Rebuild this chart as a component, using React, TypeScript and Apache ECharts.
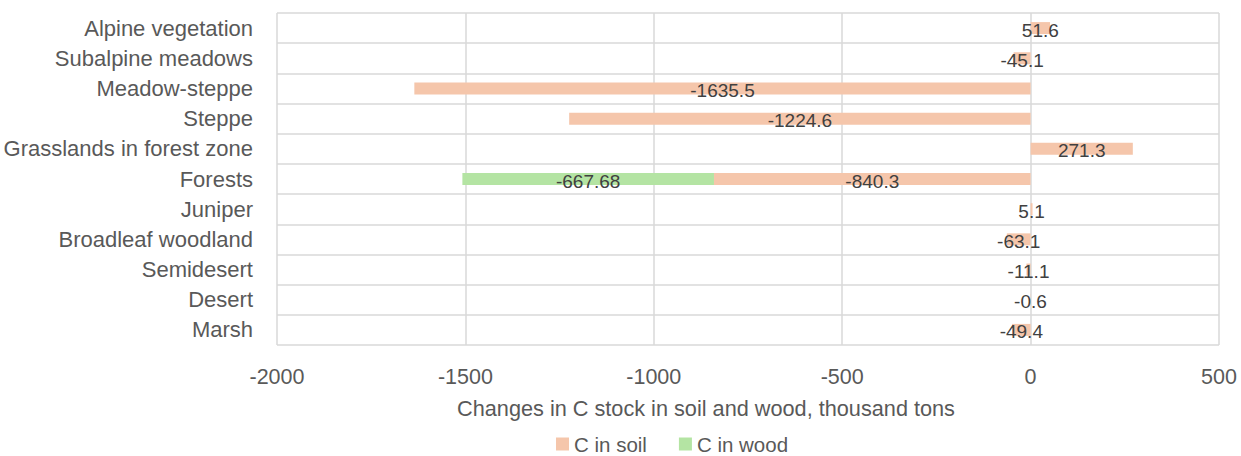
import React, { useEffect, useRef } from "react";
import * as echarts from "echarts";

const categories = [
  "Alpine vegetation",
  "Subalpine meadows",
  "Meadow-steppe",
  "Steppe",
  "Grasslands in forest zone",
  "Forests",
  "Juniper",
  "Broadleaf woodland",
  "Semidesert",
  "Desert",
  "Marsh",
];
const soilValues = [51.6, -45.1, -1635.5, -1224.6, 271.3, -840.3, 5.1, -63.1, -11.1, -0.6, -49.4];
const woodValues = [null, null, null, null, null, -667.68, null, null, null, null, null];
const xTicks = { min: -2000, max: 500, interval: 500 };
const axisTitle = "Changes in C stock in soil and wood, thousand tons";
const seriesNames = ["C in soil", "C in wood"];

const FONT = "'Liberation Sans', Arial, sans-serif";

export default function App() {
  const ref = useRef<HTMLDivElement>(null);
  useEffect(() => {
    if (!ref.current) return;
    const chart = echarts.init(ref.current, null, { renderer: "svg" });
    const label = {
      show: true,
      position: "inside",
      color: "#404040",
      fontSize: 19,
      fontFamily: FONT,
      offset: [0, 2],
      formatter: (p: any) => String(p.value),
    };
    chart.setOption({
      animation: false,
      textStyle: { fontFamily: FONT },
      grid: { left: 277, top: 13, right: 22, bottom: 111, containLabel: false },
      legend: {
        data: seriesNames,
        left: 551,
        top: 428,
        itemWidth: 13,
        itemHeight: 13,
        itemGap: 32,
        icon: "rect",
        textStyle: { color: "#595959", fontSize: 20.5, fontFamily: FONT, lineHeight: 22 },
      },
      xAxis: {
        type: "value",
        min: xTicks.min,
        max: xTicks.max,
        interval: xTicks.interval,
        axisLine: { show: false },
        axisTick: { show: false },
        splitLine: { show: true, lineStyle: { color: "#d9d9d9", width: 1.5 } },
        axisLabel: {
          color: "#595959",
          fontSize: 21.5,
          fontFamily: FONT,
          margin: 21,
          formatter: (v: number) => String(v),
        },
        name: axisTitle,
        nameLocation: "middle",
        nameGap: 52,
        nameTextStyle: { color: "#595959", fontSize: 21.7, fontFamily: FONT, padding: [0, 84, 0, 0] },
      },
      yAxis: {
        type: "category",
        data: categories,
        inverse: true,
        axisLine: { show: false },
        axisTick: { show: false },
        splitLine: { show: true, lineStyle: { color: "#d9d9d9", width: 1.5 } },
        axisLabel: { color: "#595959", fontSize: 22, fontFamily: FONT, margin: 24 },
      },
      series: [
        {
          name: seriesNames[0],
          type: "bar",
          stack: "total",
          data: soilValues,
          barWidth: 12,
          itemStyle: { color: "#f5c6ab" },
          label,
        },
        {
          name: seriesNames[1],
          type: "bar",
          stack: "total",
          data: woodValues,
          barWidth: 12,
          itemStyle: { color: "#b4e4a3" },
          label,
        },
      ],
    });
    return () => chart.dispose();
  }, []);
  return (
    <div
      ref={ref}
      style={{ position: "absolute", left: 0, top: 0, width: 1241, height: 456 }}
    />
  );
}
